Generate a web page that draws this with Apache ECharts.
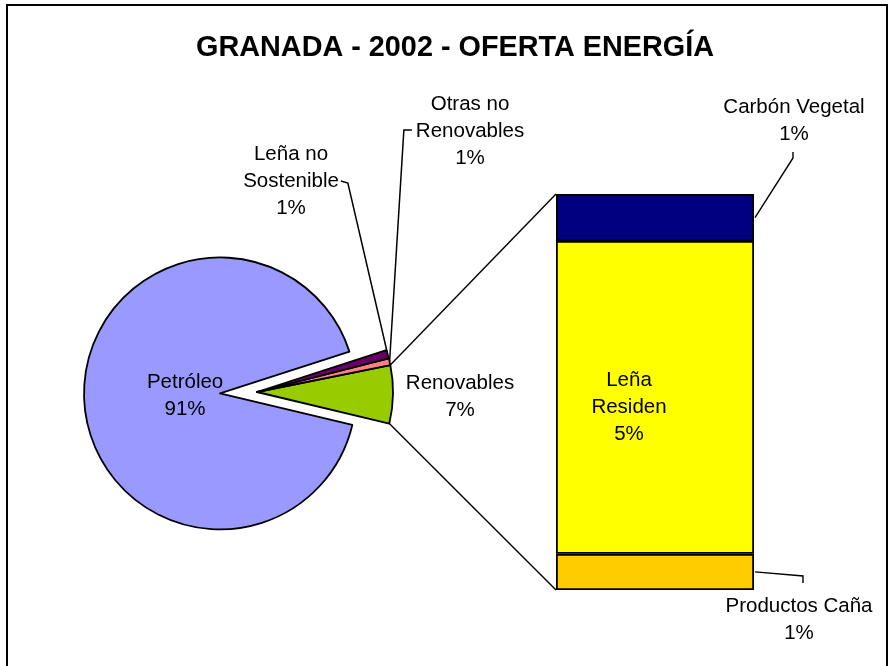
<!DOCTYPE html>
<html>
<head>
<meta charset="utf-8">
<title>Granada 2002 - Oferta Energía</title>
<script src="https://cdn.jsdelivr.net/npm/echarts@6.0.0/dist/echarts.min.js"></script>
<style>
  html, body { margin: 0; padding: 0; background: #fff; }
  #chart { width: 891px; height: 666px; }
</style>
</head>
<body>
<div id="chart"></div>
<script>
// datos (% de la oferta total)
const pieNames = ['Renovables', 'Otras no\nRenovables', 'Leña no\nSostenible', 'Petróleo'];
const pieValues = [6.9, 0.8, 1.0, 91.3];
const pieColors = ['#99CC00', '#FF8080', '#660066', '#9999FF'];

// desglose de Renovables (barra apilada, de abajo a arriba)
const barNames = ['Productos Caña', 'Leña\nResiden', 'Carbón Vegetal'];
const barValues = [0.63, 5.45, 0.82];
const barColors = ['#FFCC00', '#FFFF00', '#000080'];

const FONT = '"Liberation Sans", Arial, sans-serif';
const PIE_CENTER = [257, 392];
const PIE_R = 136;
const PIE_START = -13.4;
const SEL_OFFSET = 37;
const BAR_BOX = { left: 556, top: 194, width: 198, height: 396 };

// posiciones de las etiquetas (centro del texto)
const pieLabelPos = [[460, 397], [470, 131], [291, 181], null];
const barLabelPos = [[799, 620], [629, 407], [794, 121]];

const chart = echarts.init(document.getElementById('chart'));

const labelStyle = {
  color: '#000',
  fontSize: 20.5,
  fontFamily: FONT,
  lineHeight: 27,
  align: 'center'
};

const pieSum = pieValues.reduce((a, b) => a + b, 0);
const barSum = barValues.reduce((a, b) => a + b, 0);
const selIdx = pieNames.indexOf('Petróleo');

// lineas que unen la porcion Renovables con la barra
const a0 = PIE_START * Math.PI / 180;
const a1 = (PIE_START + 360 * pieValues[0] / pieSum) * Math.PI / 180;
const upper = [PIE_CENTER[0] + PIE_R * Math.cos(a1), PIE_CENTER[1] - PIE_R * Math.sin(a1)];
const lower = [PIE_CENTER[0] + PIE_R * Math.cos(a0), PIE_CENTER[1] - PIE_R * Math.sin(a0)];

const lineStyle = { stroke: '#000', lineWidth: 1.4 };

const option = {
  animation: false,
  backgroundColor: '#fff',
  title: {
    text: 'GRANADA - 2002 - OFERTA ENERGÍA',
    left: 450,
    top: 29,
    textAlign: 'center',
    textStyle: { fontFamily: FONT, fontSize: 28.8, fontWeight: 'bold', color: '#000' }
  },
  grid: Object.assign({}, BAR_BOX),
  xAxis: { type: 'category', data: ['Renovables'], show: false },
  yAxis: { type: 'value', min: 0, max: barSum, show: false },
  series: [
    {
      type: 'pie',
      center: PIE_CENTER,
      radius: PIE_R,
      startAngle: PIE_START,
      clockwise: false,
      selectedMode: 'single',
      selectedOffset: SEL_OFFSET,
      avoidLabelOverlap: false,
      emphasis: { disabled: true },
      itemStyle: { borderColor: '#000', borderWidth: 1.8 },
      label: Object.assign({
        show: true,
        formatter: (p) => p.name + '\n' + Math.round(p.percent) + '%'
      }, labelStyle),
      labelLine: { show: false },
      labelLayout: (p) => {
        const pos = pieLabelPos[p.dataIndex];
        if (!pos) return {};
        const res = { x: pos[0], y: pos[1], align: 'center', verticalAlign: 'middle' };
        const pts = p.labelLinePoints;
        if (pts && (p.dataIndex === 1 || p.dataIndex === 2)) {
          const w = p.labelRect.width;
          if (p.dataIndex === 2) {
            const right = pos[0] + w / 2;
            res.labelLinePoints = [pts[0], [right + 9, pos[1] + 2], [right + 2, pos[1]]];
          } else {
            const left = pos[0] - w / 2;
            res.labelLinePoints = [pts[0], [left - 12, pos[1] - 1], [left - 4, pos[1] - 1]];
          }
        }
        return res;
      },
      data: pieNames.map((n, i) => ({
        name: n,
        value: pieValues[i],
        selected: i === selIdx,
        itemStyle: { color: pieColors[i] },
        // la porcion separada no acepta labelLayout: se desplaza con padding
        label: i === selIdx ? { position: 'inside', padding: [34, 0, 0, 72] } : {},
        labelLine: {
          show: i === 1 || i === 2,
          length: 20,
          length2: 10,
          lineStyle: { color: '#000', width: 1.5 }
        }
      }))
    },
    ...barNames.map((n, i) => ({
      type: 'bar',
      name: n,
      stack: 'renov',
      barWidth: '100%',
      emphasis: { disabled: true },
      itemStyle: { color: barColors[i], borderColor: '#000', borderWidth: 1.8 },
      label: Object.assign({
        show: true,
        position: 'inside',
        formatter: (p) => p.seriesName + '\n' + Math.round(p.value) + '%'
      }, labelStyle),
      labelLayout: () => {
        const pos = barLabelPos[i];
        return { x: pos[0], y: pos[1], align: 'center', verticalAlign: 'middle' };
      },
      data: [barValues[i]]
    }))
  ]
};

chart.setOption(option);

// lineas de conexion y guias de las etiquetas de la barra
const barRight = BAR_BOX.left + BAR_BOX.width;
const yOf = (v) => chart.convertToPixel({ gridIndex: 0 }, [0, v])[1];
const carbonMid = yOf(barSum - barValues[2] / 2);
const canaMid = yOf(barValues[0] / 2);
const carbonPos = barLabelPos[2];
const canaPos = barLabelPos[0];

chart.setOption({
  graphic: [
    { type: 'rect', shape: { x: 7, y: 5, width: 880, height: 720 },
      style: { fill: 'none', stroke: '#000', lineWidth: 2 }, silent: true },
    { type: 'line', shape: { x1: upper[0], y1: upper[1], x2: BAR_BOX.left, y2: yOf(barSum) },
      style: lineStyle, silent: true },
    { type: 'line', shape: { x1: lower[0], y1: lower[1], x2: BAR_BOX.left, y2: yOf(0) },
      style: lineStyle, silent: true },
    { type: 'polyline', shape: { points: [[barRight + 1, carbonMid], [carbonPos[0] - 1, carbonPos[1] + 37], [carbonPos[0] - 1, carbonPos[1] + 31]] },
      style: Object.assign({ fill: 'none' }, lineStyle), silent: true },
    { type: 'polyline', shape: { points: [[barRight + 1, canaMid], [canaPos[0] + 4, canaPos[1] - 44], [canaPos[0] + 4, canaPos[1] - 37]] },
      style: Object.assign({ fill: 'none' }, lineStyle), silent: true }
  ]
});
</script>
</body>
</html>
